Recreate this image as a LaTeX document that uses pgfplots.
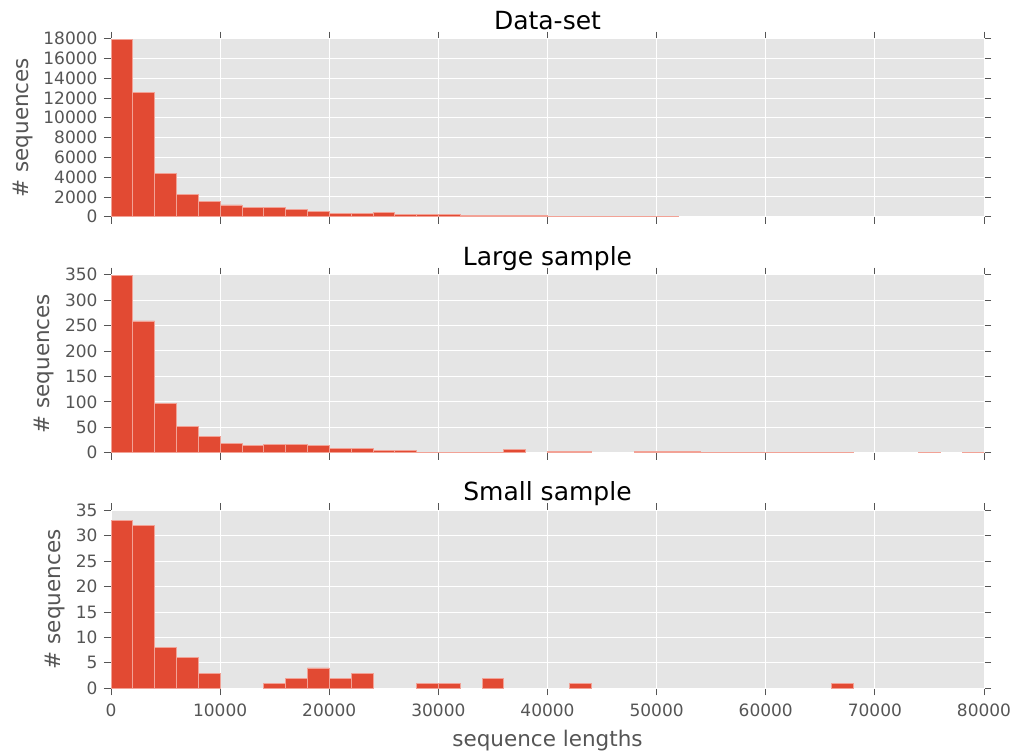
\documentclass[border=0pt]{standalone}
\usepackage{fontspec}
\setmainfont{DejaVu Sans}
\usepackage{pgfplots}
\pgfplotsset{compat=1.18}
\definecolor{barred}{HTML}{E24A33}
\definecolor{baredge}{HTML}{F2A296}
\definecolor{bg}{HTML}{E5E5E5}
\definecolor{tickgray}{HTML}{555555}
\pgfplotsset{
  hist/.style={
    width=873bp, height=178bp, scale only axis,
    xmin=0, xmax=80000, ymin=0,
    axis background/.style={fill=bg},
    axis line style={white, line width=1bp},
    grid=major,
    major grid style={white, line width=1bp},
    tick align=outside,
    major tick length=7bp,
    tick style={tickgray, line width=0.8bp},
    xtick={0,10000,...,80000},
    /pgf/number format/1000 sep={},
    /pgf/number format/assume math mode=true,
    scaled y ticks=false, scaled x ticks=false,
    ticklabel style={font=\fontsize{17bp}{20bp}\selectfont, text=tickgray},
    yticklabel style={xshift=-3bp},
    xticklabel style={yshift=-5bp},
    label style={font=\fontsize{21.5bp}{25bp}\selectfont, text=tickgray},
    ylabel style={at={(ticklabel cs:0.5,4bp)}},
    title style={font=\fontsize{25bp}{30bp}\selectfont, text=black, at={(0.5,1)}, anchor=base, yshift=3.5bp},
    ylabel={\# sequences},
  },
  bars/.style={ybar, bar width=2000, bar shift=0pt, fill=barred, draw=baredge, line width=0.8bp},
}
\begin{document}
\begin{tikzpicture}
\useasboundingbox (0,0) rectangle (1012bp,753bp);
% ---------------- Data-set (bin centres, bins of 2000)
\begin{axis}[hist, at={(111bp,536.3bp)}, anchor=south west,
  title={Data-set}, ymax=18000, ytick={0,2000,...,18000}, xticklabels={}]
\addplot[bars] coordinates {
(1000,17950) (3000,12600) (5000,4330) (7000,2230) (9000,1555) (11000,1183)
(13000,913) (15000,913) (17000,777) (19000,507) (21000,372) (23000,372)
(25000,390) (27000,253) (29000,253) (31000,253) (33000,135) (35000,135)
(37000,135) (39000,135) (41000,30) (43000,30) (45000,25) (47000,25)
(49000,20) (51000,20)};
\end{axis}
% ---------------- Large sample
\begin{axis}[hist, at={(111bp,300.3bp)}, anchor=south west,
  title={Large sample}, ymax=350, ytick={0,50,...,350}, xticklabels={}]
\addplot[bars] coordinates {
(1000,349) (3000,259) (5000,96) (7000,52) (9000,32) (11000,19)
(13000,15) (15000,17) (17000,17) (19000,15) (21000,9) (23000,9)
(25000,4) (27000,4) (29000,1) (31000,1) (33000,1) (35000,1)
(37000,7) (41000,2) (43000,2)
(49000,2) (51000,2) (53000,2) (55000,1) (57000,1) (59000,1) (61000,1)
(63000,1) (65000,1) (67000,1) (75000,1) (79000,1)};
\end{axis}
% ---------------- Small sample
\begin{axis}[hist, at={(111bp,64.7bp)}, anchor=south west,
  title={Small sample}, ymax=35, ytick={0,5,...,35},
  xlabel={sequence lengths},
  xlabel style={at={(0.5,0)}, anchor=base, yshift=-57.7bp}]
\addplot[bars] coordinates {
(1000,33) (3000,32) (5000,8) (7000,6) (9000,3)
(15000,1) (17000,2) (19000,4) (21000,2) (23000,3)
(29000,1) (31000,1) (35000,2) (43000,1) (67000,1)};
\end{axis}
\end{tikzpicture}
\end{document}
